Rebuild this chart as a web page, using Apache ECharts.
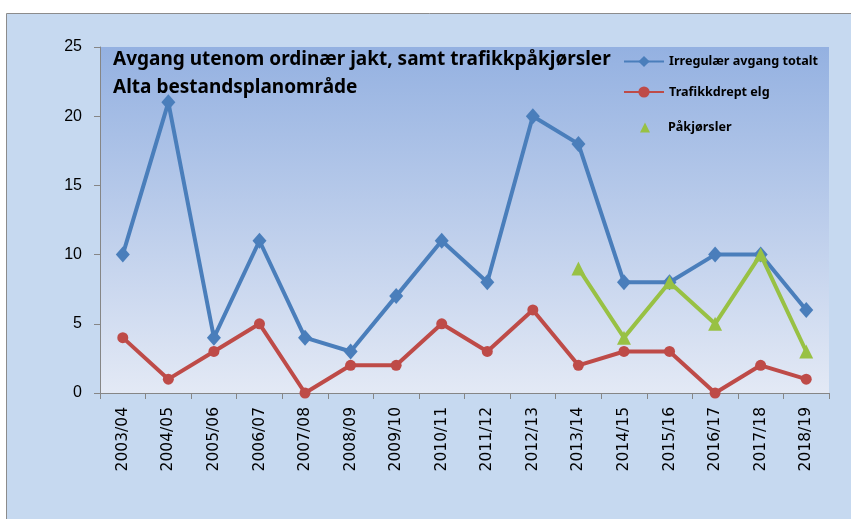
<!DOCTYPE html>
<html><head><meta charset="utf-8">
<script src="https://cdn.jsdelivr.net/npm/echarts@6/dist/echarts.min.js"></script>
<style>html,body{margin:0;padding:0;background:#fff}#c{width:851px;height:519px}</style>
</head><body><div id="c"></div>
<script>
const categories = ['2003/04','2004/05','2005/06','2006/07','2007/08','2008/09','2009/10','2010/11','2011/12','2012/13','2013/14','2014/15','2015/16','2016/17','2017/18','2018/19'];
const irregular = [10,21,4,11,4,3,7,11,8,20,18,8,8,10,10,6];
const trafikkdrept = [4,1,3,5,0,2,2,5,3,6,2,3,3,0,2,1];
const pakjorsler = [null,null,null,null,null,null,null,null,null,null,9,4,8,5,10,3];
const yTicks = [0,5,10,15,20,25];
const titleLines = ['Avgang utenom ordinær jakt, samt trafikkpåkjørsler','Alta bestandsplanområde'];

const chart = echarts.init(document.getElementById('c'), null, {renderer:'canvas'});
const axisGrey = '#868686';
chart.setOption({
  backgroundColor:'#ffffff',
  animation:false,
  graphic:[
    {type:'rect', z:-10, shape:{x:6.5,y:13.5,width:900,height:600}, style:{fill:'#c6d9f0', stroke:'#8c8c8c', lineWidth:1}},
    {type:'text', z:10, left:113, top:50, style:{text:titleLines[0], font:'bold 19px "Noto Sans"', fill:'#000'}},
    {type:'text', z:10, left:113, top:78, style:{text:titleLines[1], font:'bold 19px "Noto Sans"', fill:'#000'}}
  ],
  grid:{left:100, top:47, width:729, height:346, show:true, borderWidth:0,
    backgroundColor:{type:'linear',x:0,y:0,x2:0,y2:1,colorStops:[{offset:0,color:'#94b1e1'},{offset:1,color:'#e3e9f5'}]}},
  legend:[
    {orient:'vertical', left:623, top:55, padding:0, itemWidth:40, itemHeight:14, itemGap:17.5,
     textStyle:{fontFamily:'Noto Sans', fontWeight:'bold', fontSize:12.6, color:'#000'},
     data:['Irregulær avgang totalt','Trafikkdrept elg']},
    {orient:'vertical', left:640, top:121, padding:0, itemWidth:10, itemHeight:10,
     textStyle:{fontFamily:'Noto Sans', fontWeight:'bold', fontSize:12.6, color:'#000', padding:[0,0,0,13]},
     data:[{name:'Påkjørsler', icon:'triangle'}]}
  ],
  xAxis:{type:'category', data:categories, boundaryGap:true,
    axisLine:{lineStyle:{color:axisGrey, width:1}},
    axisTick:{show:true, length:6, lineStyle:{color:axisGrey}, alignWithLabel:false},
    axisLabel:{rotate:90, margin:14, fontFamily:'DejaVu Sans', fontSize:15.5, color:'#000', interval:0}},
  yAxis:{type:'value', min:0, max:25, interval:5,
    axisLine:{show:true, lineStyle:{color:axisGrey}},
    axisTick:{show:true, length:6, lineStyle:{color:axisGrey}},
    splitLine:{show:false},
    axisLabel:{margin:18, fontFamily:'Liberation Sans Narrow, Liberation Sans', fontSize:16, color:'#000',
      formatter:v=>yTicks.includes(v)?String(v):''}},
  series:[
    {name:'Irregulær avgang totalt', type:'line', data:irregular, symbol:'diamond', symbolSize:[14,16],
     lineStyle:{color:'#4a7ebb', width:4}, itemStyle:{color:'#4a7ebb'}, z:2},
    {name:'Trafikkdrept elg', type:'line', data:trafikkdrept, symbol:'circle', symbolSize:11,
     lineStyle:{color:'#be4b48', width:4}, itemStyle:{color:'#be4b48'}, z:3},
    {name:'Påkjørsler', type:'line', data:pakjorsler, symbol:'triangle', symbolSize:[14,14],
     lineStyle:{color:'#98c144', width:4}, itemStyle:{color:'#98c144'}, z:4}
  ]
});
</script></body></html>
